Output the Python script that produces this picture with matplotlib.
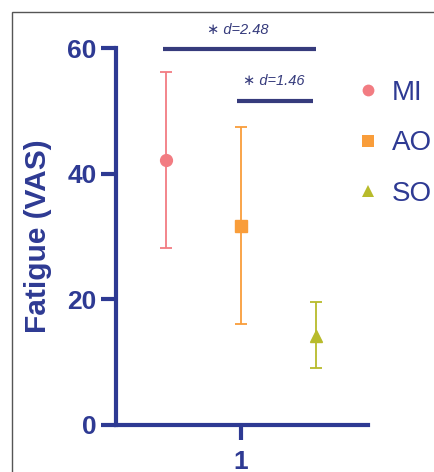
import matplotlib
matplotlib.use("Agg")
import matplotlib.pyplot as plt
from matplotlib.lines import Line2D
from matplotlib.patches import Rectangle

groups = ["MI", "AO", "SO"]
positions = [0.7, 1.0, 1.3]
means = [42.2, 31.7, 14.2]
err_low = [14.0, 15.6, 5.1]
err_high = [14.0, 15.8, 5.4]
colors = ["#F27C82", "#F99D3A", "#B8BB2B"]
markers = ["o", "s", "^"]
sig_pairs = [(0.69, 1.30), (0.985, 1.29)]
sig_y = [59.8, 51.6]
sig_labels = ["\u2217 d=2.48", "\u2217 d=1.46"]
sig_text_x = [0.988, 1.132]
sig_text_y = [62.9, 54.8]
yticks = [0, 20, 40, 60]
xticks = [1]

navy = "#2E3A93"
dark = "#363B7C"
plt.rcParams['font.family'] = ['Liberation Sans', 'DejaVu Sans']

fig = plt.figure(figsize=(4.35, 4.72), dpi=100)
fig.patches.append(Rectangle((12/435, -0.1), 1.2, 1 - 12/472 + 0.1, transform=fig.transFigure,
                             fill=False, edgecolor="#555555", linewidth=1.0))
ax = fig.add_axes([116/435, 1 - 425/472, (368-116)/435, (425-48)/472])
ax.set_xlim(0.5, 1.508)
ax.set_ylim(0, 60)

for p, m, lo, hi, c, mk, g in zip(positions, means, err_low, err_high, colors, markers, groups):
    ax.errorbar([p], [m], yerr=[[lo], [hi]], fmt=mk, color=c, ecolor=c, elinewidth=1.3,
                capsize=4.3, capthick=1.3, markersize=8.5, label=g,
                clip_on=False, zorder=3)

for (x0, x1), y in zip(sig_pairs, sig_y):
    ax.plot([x0, x1], [y, y], color=dark, linewidth=3, solid_capstyle='butt', clip_on=False)
for tx, ty, s in zip(sig_text_x, sig_text_y, sig_labels):
    ax.text(tx, ty, s, ha='center', va='center', fontsize=10.5, style='italic', color=dark,
            clip_on=False)

for side in ['top', 'right']:
    ax.spines[side].set_visible(False)
for side in ['left', 'bottom']:
    ax.spines[side].set_color(navy)
    ax.spines[side].set_linewidth(3)
ax.spines['bottom'].set_bounds(0.5, 1.508)

ax.set_yticks(yticks)
ax.set_xticks(xticks)
ax.tick_params(axis='both', colors=navy, width=3, length=11, labelsize=19, pad=3)
ax.tick_params(axis='x', pad=7)
for lbl in ax.get_xticklabels() + ax.get_yticklabels():
    lbl.set_fontweight('bold')
ax.set_ylabel("Fatigue (VAS)", fontsize=21.5, fontweight='bold', color=navy)
ax.yaxis.set_label_coords(-0.255, 0.5)

handles = [Line2D([], [], linestyle='none', marker=mk, color=c, markersize=8.5, markeredgewidth=0)
           for mk, c in zip(markers, colors)]
leg = fig.legend(handles, groups, loc='upper left', bbox_to_anchor=(346/435, 1 - 66/472),
                 frameon=False, fontsize=20, handlelength=0.6, handletextpad=0.55,
                 labelspacing=0.88, borderpad=0)
for t in leg.get_texts():
    t.set_color(navy)

fig.savefig("out.png", dpi=100)
